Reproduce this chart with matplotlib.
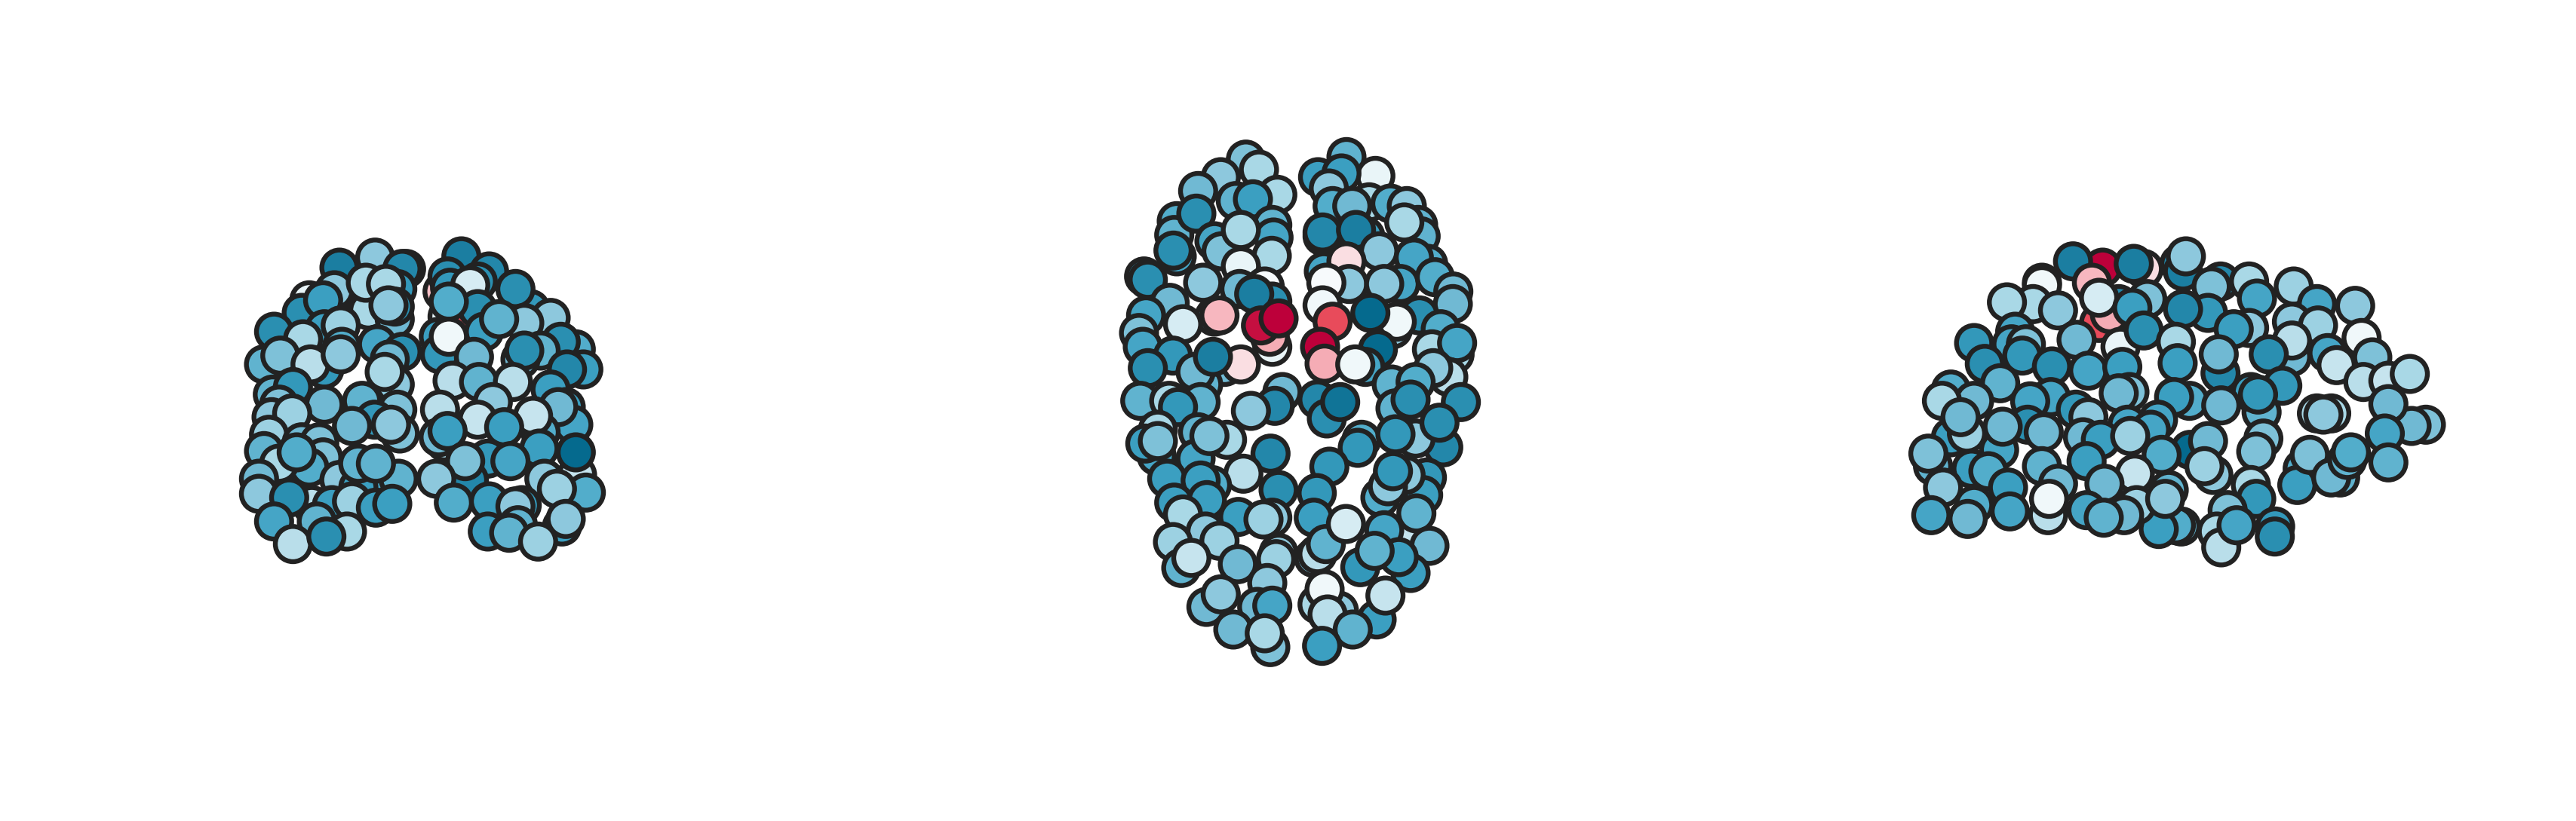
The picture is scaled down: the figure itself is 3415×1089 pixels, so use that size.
import matplotlib
matplotlib.use("Agg")
import matplotlib.pyplot as plt
from matplotlib.colors import LinearSegmentedColormap, Normalize

# Node values: (x, y, strength), back to front, per view and hemisphere
coronal_left = [(715,170,0.95),(450,165,-0.9),(592,125,-0.4),(700,170,-0.85),(545,290,0.35),(555,320,-0.1),(565,335,-0.3),
(430,255,-0.4),(670,370,-0.5),(330,295,-0.1),(300,345,-0.8),(680,250,-0.75),(385,295,-0.7),(555,225,-0.3),(635,230,-0.3),(670,320,-0.8),(645,315,-0.4),
(190,420,-0.8),(390,410,-0.7),(455,395,-0.35),(305,450,-0.3),(150,550,-0.55),(215,515,-0.45),(460,480,-0.6),(600,470,-0.65),
(700,500,-0.8),(650,530,-0.5),(390,570,-0.75),(335,550,-0.25),(455,510,-0.4),(670,630,-0.4),(630,580,-0.3),(185,670,-0.55),
(265,640,-0.75),(210,710,-0.45),(180,760,-0.4),(390,710,-0.5),(540,695,-0.55),(262,745,-0.35),(680,730,-0.45),(590,770,-0.75),
(500,795,-0.5),(690,825,-0.45),(655,790,-0.4),(170,830,-0.35),(300,860,-0.5),(370,860,-0.45),(150,895,-0.55),(385,920,-0.45),
(330,960,-0.6),(210,945,-0.3),(280,900,-0.6),(130,1005,-0.5),(450,1010,-0.4),(660,1020,-0.65),(525,1040,-0.7),(525,945,-0.55),(685,1005,-0.55),
(595,945,-0.55),(340,1110,-0.25),(420,1110,-0.7),(500,1095,-0.35),(595,1120,-0.7),(660,1105,-0.7),(130,1065,-0.4),
(250,1080,-0.8),(190,1175,-0.65),(360,1175,-0.55),(480,1215,-0.3),(265,1265,-0.25),(398,1235,-0.8)]
coronal_right = [(935,120,-0.9),(1045,180,-0.85),(860,260,0.3),(880,200,-0.8),(890,245,-0.75),(1000,220,-0.8),(970,235,-0.15),
(1210,330,-0.75),(1150,250,-0.8),(1290,365,-0.4),(880,360,-0.1),(930,380,0.75),(1000,330,-0.8),(885,300,-0.6),(1025,420,-0.7),
(1185,385,-0.4),(1085,370,-0.55),(845,440,-0.7),(850,510,-0.75),(885,440,-0.05),(985,520,-0.5),(1390,490,-0.6),(1330,460,-0.8),
(1250,495,-0.55),(1170,530,-0.5),(1185,495,-0.8),(1420,570,-0.7),(1355,570,-0.85),(900,615,-0.25),(1005,620,-0.55),(1140,620,-0.25),
(1290,650,-0.7),(850,730,-0.25),(1060,700,-0.4),(1000,770,-0.2),(1350,720,-0.7),(1380,790,-0.65),(1320,720,-0.5),(1250,820,-0.6),(1220,755,-0.2),(1105,800,-0.7),
(870,860,-0.3),(845,840,-0.5),(880,815,-0.7),(1245,885,-0.7),(1395,990,-0.2),(1390,900,-1),(1040,925,-0.75),(1130,935,-0.65),(965,1010,-0.85),(950,935,-0.45),
(835,1005,-0.4),(1265,1005,-0.4),(1430,1060,-0.6),(1315,1045,-0.35),(905,1100,-0.6),(1045,1095,-0.7),(1175,1110,-0.75),
(1150,1115,-0.4),(1335,1195,-0.7),(1350,1165,-0.4),(1040,1215,-0.7),(1160,1190,-0.55),(1125,1220,-0.55),(1240,1255,-0.35)]

axial_left = [(575,125,-0.45),(627,165,-0.3),(475,195,-0.4),(700,265,-0.3),(385,250,-0.5),(535,290,-0.55),(603,283,-0.7),
(300,370,-0.6),(290,425,-0.55),(378,340,-0.8),(680,385,-0.55),(685,435,-0.65),(450,450,-0.65),(478,490,-0.45),(555,405,-0.3),
(300,510,-0.65),(287,487,-0.8),(678,508,-0.3),(555,550,-0.1),(170,590,-0.85),(185,603,-0.8),(405,615,-0.4),(650,630,0.0),
(550,640,-0.5),(680,690,-0.8),(608,660,-0.9),(272,695,-0.5),(178,745,-0.65),(450,750,-0.65),(470,745,0.35),(150,815,-0.45),(325,780,-0.15),
(680,870,-0.1),(670,830,0.4),(635,785,0.95),(705,757,1),(165,870,-0.65),(285,905,-0.75),(185,955,-0.8),(490,950,-0.5),
(405,1020,-0.55),(375,970,-0.5),(555,940,0.15),(444,910,-0.9),(720,1050,-0.5),(690,1105,-0.85),(595,1125,-0.4),(155,1085,-0.55),
(270,1085,-0.3),(395,1090,-0.55),(305,1110,-0.75),(225,1200,-0.3),(385,1210,-0.55),(500,1240,-0.3),(220,1305,-0.65),(175,1255,-0.7),
(225,1245,-0.45),(375,1315,-0.65),(430,1225,-0.45),(673,1295,-0.85),(565,1375,-0.25),(262,1395,-0.7),(440,1420,-0.6),
(395,1402,-0.7),(705,1440,-0.8),(290,1490,-0.7),(420,1480,-0.7),(325,1537,-0.3),(545,1547,-0.7),(680,1550,-0.4),(645,1557,-0.35),
(415,1605,-0.4),(285,1647,-0.35),(470,1642,-0.35),(705,1690,-0.4),(695,1715,-0.35),(543,1735,-0.5),(318,1750,-0.55),(358,1710,-0.2),
(660,1810,-0.4),(418,1905,-0.5),(475,1855,-0.4),(620,1905,-0.5),(680,1900,-0.65),(525,1995,-0.5),(672,2065,-0.45),(650,2010,-0.3)]
axial_right = [(975,115,-0.55),(862,195,-0.7),(1090,190,-0.1),(955,180,-0.7),(905,240,-0.4),(1065,295,-0.3),(1150,300,-0.6),
(920,310,-0.6),(998,310,-0.5),(1215,310,-0.4),(1260,385,-0.55),(1270,430,-0.55),(1205,375,-0.3),(880,430,-0.8),(1050,430,-0.7),
(880,415,-0.85),(1013,405,-0.9),(1105,490,-0.4),(1300,540,-0.6),(1243,515,-0.65),(885,570,-0.65),(975,530,0.15),(985,620,-0.4),
(1190,620,-0.65),(1125,620,-0.4),(1327,593,-0.6),(895,615,0.0),(1400,650,-0.5),(1398,700,-0.5),(1265,745,-0.8),(880,705,-0.05),
(1160,800,-0.4),(1175,770,-0.05),(1070,735,-1),(920,770,0.75),(1350,800,-0.6),(1100,880,-1),(870,870,1.0),(1405,900,-0.3),(1315,880,-0.3),
(1415,855,-0.65),(1050,950,-0.65),(888,937,0.4),(1010,940,-0.05),(1380,990,-0.25),(1320,955,-0.4),(1155,1020,-0.55),(1250,1010,-0.6),
(860,1080,-0.85),(897,1155,-0.8),(950,1090,-0.95),(1035,1240,-0.6),(1020,1272,-0.75),(1170,1115,-0.55),(1230,1080,-0.8),(1430,1090,-0.8),
(1360,1270,-0.85),(1250,1235,-0.4),(1170,1218,-0.75),(1345,1172,-0.8),(907,1347,-0.75),(1295,1390,-0.75),(1110,1470,-0.6),(1280,1460,-0.7),
(1210,1380,-0.4),(1140,1425,-0.4),(1160,1365,-0.75),(857,1452,-0.75),(845,1550,-0.7),(1190,1620,-0.2),(1125,1600,-0.65),(1253,1533,-0.55),
(845,1710,-0.5),(860,1695,-0.25),(893,1655,-0.55),(973,1575,-0.15),(1305,1662,-0.5),(1030,1747,-0.75),(1230,1770,-0.7),(1183,1707,-0.7),(1087,1682,-0.55),
(860,1895,-0.3),(945,1920,-0.4),(1095,1955,-0.7),(1130,1860,-0.2),(888,1835,-0.05),(900,1935,-0.25),(1000,1995,-0.55),(878,2060,-0.7)]

sagittal_top = [(565,165,1.0),(482,140,-0.9),(680,170,0.15),(780,150,-0.85),(790,180,-0.9),(798,120,-0.4),(652,150,-0.9),(535,225,0.35),
(395,225,-0.2),(395,235,-0.05),(895,220,-0.85),(975,220,-0.3),(870,240,-0.45),(1100,240,-0.35),(1165,310,-0.65),(997,288,-0.65),(1272,317,-0.4),
(370,310,-0.3),(297,303,-0.3),(440,335,-0.4),(610,310,-0.85),(555,385,0.75),(585,350,0.4),(555,285,-0.15),(690,290,-0.45),(648,325,-0.7),
(860,345,-0.75),(790,330,-0.85),(320,420,-0.65),(975,405,-0.4),(932,410,-0.7),(1095,380,-0.4),(1168,395,-0.35),(615,480,-0.1),(680,415,-0.8),
(770,460,-0.3),(492,452,-0.5),(1290,445,-0.05),(1195,505,-0.65),(1095,520,-0.5),(1095,455,-0.25),(205,465,-0.75),(310,470,-0.65),(350,470,-0.45),(340,515,-0.75),
(235,548,-0.8),(423,558,-0.8),(525,575,-0.65),(620,560,-0.7),(775,545,-0.7),(895,585,-0.85),(1030,510,-0.8),(890,510,-0.5)]
sagittal_mid = [(1220,553,-0.2),(1320,522,-0.45),(1295,620,-0.25),(1365,615,-0.2),(1425,588,-0.3),(278,625,-0.55),(640,660,-0.45),(610,665,-0.5),
(1068,635,-0.75),(808,695,-0.6),(765,680,-0.7),(1010,740,-0.55),(980,660,-0.7),(1000,670,-0.75),(897,713,-0.5),(420,680,-0.65),(362,697,-0.65),(140,650,-0.6),
(205,695,-0.5),(115,695,-0.3),(1470,790,-0.45),(1430,795,-0.5),(1365,708,-0.5),(1165,745,-0.3),(1205,745,-0.3),(1183,750,-0.4),(490,730,-0.75),
(525,760,-0.4),(140,840,-0.7),(185,825,-0.35),(167,760,-0.5),(275,890,-0.65),(355,790,-0.8),(400,820,-0.5),(285,798,-0.5),(510,840,-0.5),(635,790,-0.65),
(720,770,-0.65),(560,850,-0.7),(700,810,-0.65),(642,835,-0.35)]
sagittal_low = [(810,890,-1),(730,910,-0.6),(860,855,-0.5),(1015,845,-0.45),(995,897,-0.45),(875,990,-0.4),(850,955,-0.35),(90,955,-0.55),(77,905,-0.45),
(520,935,-0.7),(655,985,-0.2),(395,955,-0.55),(198,965,-0.7),(245,975,-0.6),(440,1025,-0.5),(570,1025,-0.5),(300,1040,-0.7),(118,1040,-0.4),
(1125,965,-0.6),(1110,1030,-0.7),(1145,910,-0.45),(1230,1000,-0.55),(1205,1000,-0.5),(1250,930,-0.55),(1260,900,-0.6),(1355,825,-0.65),(1365,940,-0.55),
(980,1030,-0.3),(995,1085,-0.75),(750,1050,-0.55),(915,1130,-0.45),(785,1195,-0.55),(770,1190,-0.6),(722,1205,-0.7),(660,1110,-0.35),(740,1085,-0.4),
(520,1130,-0.65),(625,1150,-0.5),(568,1160,-0.55),(412,1150,-0.25),(415,1085,-0.05),(205,1110,-0.6),(85,1150,-0.65),(187,1165,-0.5),(305,1135,-0.65),
(885,1215,-0.3),(897,1278,-0.25),(940,1190,-0.65),(1048,1195,-0.75),(1047,1235,-0.8)]

W, H = 3415, 1089
cmap = LinearSegmentedColormap.from_list("conn", [
    (0.0, "#056a8e"), (0.05, "#1c7fa2"), (0.1, "#2b90b2"), (0.15, "#3b9fc1"),
    (0.2, "#52adcb"), (0.25, "#6fb9d3"), (0.3, "#8ec9dd"), (0.35, "#aad8e6"),
    (0.4, "#c6e4ee"), (0.45, "#e9f5f8"), (0.5, "#f7fbfd"), (0.6, "#fbd5da"),
    (0.72, "#f4a5ae"), (0.88, "#e84a5a"), (1.0, "#bd003a")])
norm = Normalize(-1, 1)

fig = plt.figure(figsize=(W / 100, H / 100), dpi=100, facecolor="white")

def panel(box, xlim, ylim, *groups):
    l, t, w, h = box
    ax = fig.add_axes([l / W, 1 - (t + h) / H, w / W, h / H])
    ax.set_xlim(0, xlim)
    ax.set_ylim(ylim, 0)
    ax.axis("off")
    pts = [p for g in groups for p in g]
    ax.scatter([p[0] for p in pts], [p[1] for p in pts], c=[p[2] for p in pts],
               cmap=cmap, norm=norm, s=1130, edgecolors="#222222", linewidths=4.6,
               clip_on=False)

panel((300, 300, 520, 460), 1560, 1380, coronal_left, coronal_right)
panel((1460, 170, 520, 730), 1560, 2190, axial_left, axial_right)
panel((2520, 300, 740, 480), 1563, 1440, sagittal_top, sagittal_mid, sagittal_low)

fig.savefig("out.png", dpi=100, facecolor="white")
